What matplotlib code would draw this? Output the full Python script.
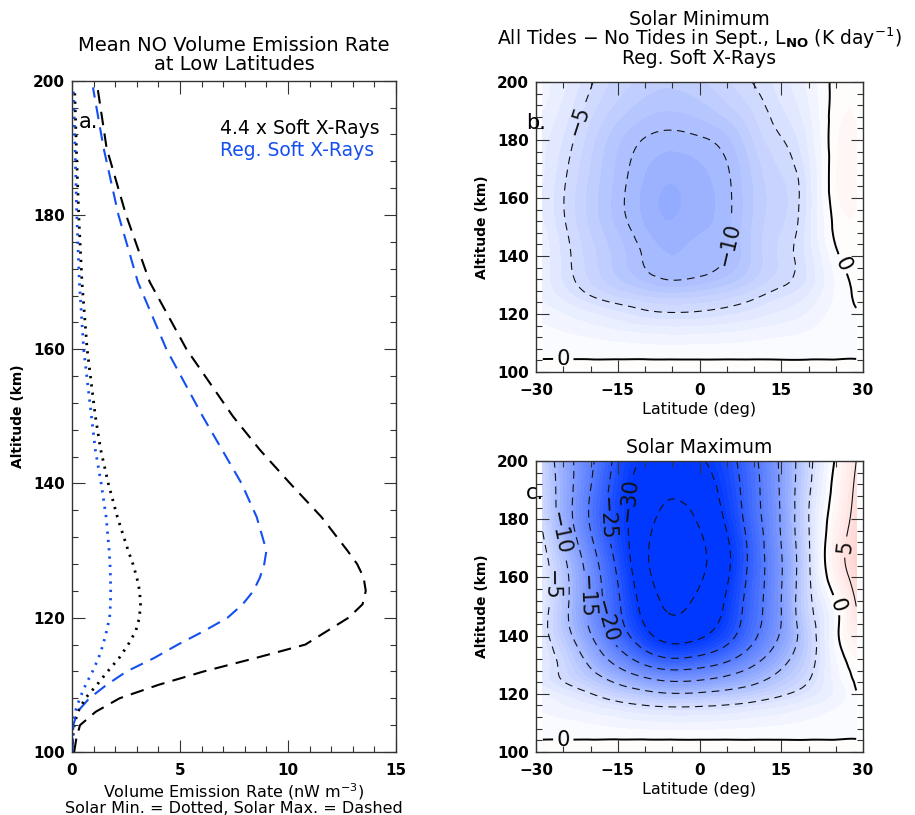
import numpy as np
import matplotlib
matplotlib.use('Agg')
import matplotlib.pyplot as plt
import matplotlib.tri as mtri
from matplotlib.colors import LinearSegmentedColormap, Normalize

# ---------------- Panel a: NO volume emission rate profiles ----------------
alt_a = [100, 102, 104, 106, 108, 110, 112, 114, 116, 118, 120, 122, 124, 126,
         128, 130, 135, 140, 145, 150, 160, 170, 180, 190, 199]
max_44x = [0.1, 0.2, 0.37, 1.1, 2.2, 4.0, 6.1, 8.5, 10.8, 11.8, 12.8, 13.45, 13.6, 13.5,
           13.2, 12.75, 11.55, 10.1, 8.7, 7.45, 5.3, 3.6, 2.5, 1.6, 1.18]
max_reg = [0.03, 0.05, 0.06, 0.25, 0.8, 1.6, 2.53, 3.8, 4.9, 6.1, 7.2, 7.9, 8.4, 8.7,
           8.9, 9.0, 8.55, 7.85, 6.95, 6.05, 4.37, 3.05, 2.15, 1.46, 0.97]
min_44x = [0.0, 0.03, 0.1, 0.27, 0.62, 1.15, 1.65, 2.18, 2.6, 2.95, 3.12, 3.17, 3.13, 3.0,
           2.82, 2.6, 2.1, 1.68, 1.33, 1.08, 0.7, 0.46, 0.31, 0.2, 0.12]
min_reg = [0.0, 0.02, 0.06, 0.15, 0.36, 0.63, 0.95, 1.23, 1.44, 1.6, 1.74, 1.78, 1.79, 1.78,
           1.76, 1.72, 1.58, 1.35, 1.08, 0.9, 0.54, 0.34, 0.22, 0.14, 0.06]

# ---------------- Panels b, c: heating-rate differences (K/day) ----------------
lat = [-28.75, -25, -20, -15, -10, -5, 0, 5, 10, 15, 20, 25, 28.75]
alt = [100, 105, 110, 115, 120, 125, 130, 140, 150, 165, 180, 190, 200]

solar_min = [
    [0.3, 0.3, 0.3, 0.35, 0.35, 0.35, 0.35, 0.35, 0.35, 0.3, 0.3, 0.3, 0.3],
    [-0.03, -0.04, -0.06, -0.08, -0.09, -0.1, -0.1, -0.09, -0.08, -0.07, -0.05, -0.03, -0.02],
    [-0.36, -0.5, -0.72, -0.94, -1.12, -1.2, -1.16, -1.06, -0.89, -0.7, -0.48, -0.18, -0.06],
    [-0.84, -1.18, -1.68, -2.18, -2.6, -2.8, -2.72, -2.46, -2.07, -1.62, -1.12, -0.42, -0.14],
    [-1.44, -2.0, -2.9, -3.7, -4.5, -4.8, -4.66, -4.2, -3.55, -2.8, -1.9, -0.6, -0.1],
    [-2.07, -3.1, -4.55, -5.66, -6.49, -6.9, -6.62, -6.0, -4.97, -3.86, -2.69, -0.83, 0.14],
    [-2.35, -3.95, -5.92, -7.52, -8.74, -9.4, -9.02, -8.08, -6.58, -5.17, -3.57, -0.94, 0.28],
    [-2.4, -4.3, -6.6, -8.5, -10.2, -11.0, -10.7, -10.0, -7.8, -5.8, -3.6, -0.3, 0.8],
    [-2.8, -4.7, -7.2, -9.2, -11.0, -11.8, -11.2, -10.3, -7.8, -6.1, -3.5, 0.35, 0.9],
    [-3.0, -4.8, -7.3, -9.4, -11.2, -12.0, -11.4, -10.3, -7.9, -6.2, -3.6, 0.9, 1.2],
    [-2.7, -4.1, -6.6, -8.8, -10.1, -10.5, -10.2, -9.3, -6.9, -5.1, -2.8, 0.8, 1.1],
    [-2.0, -3.4, -5.7, -7.5, -8.7, -9.0, -8.6, -7.5, -5.9, -4.2, -2.2, 0.55, 0.9],
    [-1.6, -2.7, -4.8, -6.4, -7.4, -7.8, -7.2, -6.2, -4.9, -3.5, -1.7, 0.4, 0.8],
]

solar_max = [
    [0.4, 0.4, 0.45, 0.5, 0.5, 0.5, 0.5, 0.5, 0.5, 0.45, 0.4, 0.4, 0.4],
    [-0.05, -0.08, -0.12, -0.15, -0.18, -0.2, -0.2, -0.18, -0.16, -0.13, -0.1, -0.06, -0.03],
    [-0.5, -0.76, -1.1, -1.5, -1.84, -2.0, -1.96, -1.8, -1.52, -1.2, -0.84, -0.44, -0.2],
    [-1.15, -1.75, -2.53, -3.45, -4.23, -4.6, -4.5, -4.14, -3.5, -2.76, -1.93, -1.0, -0.46],
    [-2.0, -3.2, -4.9, -7.1, -8.8, -9.8, -9.5, -8.6, -7.3, -5.5, -3.7, -1.8, -0.1],
    [-3.5, -5.2, -8.0, -11.4, -14.3, -15.9, -15.4, -13.8, -11.4, -8.4, -5.2, -1.6, 0.3],
    [-3.3, -5.8, -10.5, -15.6, -20.1, -22.3, -21.4, -19.0, -15.2, -10.7, -6.2, -1.3, 0.7],
    [-3.8, -8.0, -14.7, -22.1, -28.5, -32.0, -30.7, -26.9, -20.8, -14.4, -7.0, -0.6, 2.9],
    [-3.6, -8.5, -16.4, -24.2, -31.7, -35.6, -33.8, -29.2, -22.1, -15.0, -6.0, -0.4, 5.0],
    [-3.5, -9.0, -17.5, -26.0, -34.0, -38.0, -36.0, -31.0, -23.0, -15.3, -5.5, 2.8, 7.5],
    [-5.5, -12.0, -20.5, -27.8, -33.2, -36.6, -34.4, -29.3, -22.0, -14.6, -5.1, 1.8, 6.5],
    [-6.0, -12.2, -20.0, -27.4, -32.4, -34.2, -32.5, -28.2, -21.5, -14.4, -5.6, 1.0, 5.8],
    [-6.5, -12.5, -19.0, -26.5, -30.5, -31.5, -30.5, -27.0, -21.0, -14.2, -6.2, 0.3, 5.0],
]

xt_a = [0, 5, 10, 15]
yt = [100, 120, 140, 160, 180, 200]
xt_lat = [-30, -15, 0, 15, 30]

BLUE = '#1450f0'
plt.rcParams['font.family'] = ['DejaVu Sans']
plt.rcParams['axes.linewidth'] = 1.0

fig = plt.figure(figsize=(9.15, 8.15), dpi=100)
axa = fig.add_axes([0.0787, 0.0773, 0.3541, 0.8237])
axb = fig.add_axes([0.5858, 0.5436, 0.3574, 0.3558])
axc = fig.add_axes([0.5858, 0.0773, 0.3574, 0.3571])


def style_axes(ax, xticks, xlabels, xminor):
    ax.set_yticks(yt)
    ax.set_yticklabels([str(v) for v in yt], fontweight='bold', fontsize=11)
    ax.set_xticks(xticks)
    ax.set_xticklabels(xlabels, fontweight='bold', fontsize=11)
    ax.set_yticks(np.arange(100, 201, 4), minor=True)
    ax.set_xticks(xminor, minor=True)
    ax.tick_params(which='both', direction='in', top=True, right=True, width=0.8,
                   color='#333333')
    ax.tick_params(which='major', length=9)
    ax.tick_params(which='minor', length=4)
    ax.tick_params(axis='x', which='major', pad=8)
    ax.tick_params(axis='y', which='major', pad=5)
    for s in ax.spines.values():
        s.set_color('#333333')


# ---- panel a ----
axa.plot(max_44x, alt_a, color='black', lw=1.5, linestyle=(0, (6.5, 4)))
axa.plot(max_reg, alt_a, color=BLUE, lw=1.5, linestyle=(0, (6.5, 4)))
axa.plot(min_44x, alt_a, color='black', lw=2.0, linestyle=(0, (0.8, 2.2)))
axa.plot(min_reg, alt_a, color=BLUE, lw=2.0, linestyle=(0, (0.8, 2.2)))
axa.set_xlim(0, 15)
axa.set_ylim(100, 200)
style_axes(axa, xt_a, [str(v) for v in xt_a], np.arange(0, 16, 1))
axa.set_title('Mean NO Volume Emission Rate\nat Low Latitudes', fontsize=14, pad=8,
              linespacing=0.95)
axa.set_xlabel('Volume Emission Rate (nW m$^{-3}$)\nSolar Min. = Dotted, Solar Max. = Dashed',
               fontsize=11.5, labelpad=2, linespacing=0.95)
axa.set_ylabel('Altitude (km)', fontsize=10, fontweight='bold', labelpad=6)
axa.text(0.457, 0.929, '4.4 x Soft X-Rays', transform=axa.transAxes, fontsize=13.5,
         color='black', va='center')
axa.text(0.457, 0.896, 'Reg. Soft X-Rays', transform=axa.transAxes, fontsize=13.5,
         color=BLUE, va='center')
axa.text(0.02, 0.938, 'a.', transform=axa.transAxes, fontsize=15, va='center')

# ---- colormap ----
cmap = LinearSegmentedColormap.from_list(
    'bwr_idl', [(0.0, (0.0, 0.22, 1.0)), (0.5, (1.0, 1.0, 1.0)), (1.0, (1.0, 0.35, 0.3))])
norm = Normalize(vmin=-30, vmax=30, clip=True)

LAT, ALT = np.meshgrid(np.array(lat, float), np.array(alt, float))
nr, nc = LAT.shape
tris = []
for i in range(nr - 1):
    for j in range(nc - 1):
        k = i * nc + j
        tris.append([k, k + 1, k + nc + 1])
        tris.append([k, k + nc + 1, k + nc])
triang = mtri.Triangulation(LAT.ravel(), ALT.ravel(), np.array(tris))
refiner = mtri.UniformTriRefiner(triang)


def fmt(v):
    return ('\u2212%d' % abs(round(v))) if v < 0 else '%d' % round(v)


def field(ax, Z, neg_levels, pos_levels, lab_neg, lab_zero, lab_pos):
    tri_r, z_r = refiner.refine_field(np.array(Z, float).ravel(), subdiv=4)
    ax.tricontourf(tri_r, z_r, levels=np.arange(-40, 11, 1), cmap=cmap, norm=norm,
                   extend='both')
    cn = ax.tricontour(tri_r, z_r, levels=neg_levels, colors='#111111', linewidths=0.8,
                       linestyles=[(0, (7, 5))])
    cz = ax.tricontour(tri_r, z_r, levels=[0], colors='black', linewidths=1.4,
                       linestyles='solid')
    ax.clabel(cn, manual=lab_neg, inline=True, fontsize=15, fmt=fmt, inline_spacing=4)
    ax.clabel(cz, manual=lab_zero, inline=True, fontsize=15, fmt=fmt, inline_spacing=4)
    if pos_levels:
        cp = ax.tricontour(tri_r, z_r, levels=pos_levels, colors='#111111',
                           linewidths=0.8, linestyles='solid')
        ax.clabel(cp, manual=lab_pos, inline=True, fontsize=15, fmt=fmt, inline_spacing=4)
    ax.set_xlim(-30, 30)
    ax.set_ylim(100, 200)
    style_axes(ax, xt_lat, [fmt(v) for v in xt_lat], np.arange(-30, 31, 5))
    ax.set_xlabel('Latitude (deg)', fontsize=11.5, labelpad=3)
    ax.set_ylabel('Altitude (km)', fontsize=10, fontweight='bold', labelpad=6)


field(axb, solar_min, [-10, -5], [],
      [(-23.1, 187.5), (5.9, 143.8)], [(27.0, 138.0), (-25.0, 104.0)], [])
field(axc, solar_max, [-35, -30, -25, -20, -15, -10, -5], [5],
      [(-27.4, 157.4), (-25.6, 175.2), (-21.3, 153.4), (-17.0, 144.8),
       (-17.3, 180.3), (-13.1, 186.6)],
      [(25.2, 150.5), (-25.0, 104.0)], [(25.8, 170.6)])

axb.set_title('Solar Minimum\nAll Tides \u2212 No Tides in Sept., L$_{\\mathbf{NO}}$ (K day$^{-1}$)\n'
              'Reg. Soft X-Rays', fontsize=13.5, pad=13, linespacing=0.85)
axc.set_title('Solar Maximum', fontsize=13.5, pad=6)
axb.text(-0.03, 0.86, 'b.', transform=axb.transAxes, fontsize=15, va='center')
axc.text(-0.03, 0.89, 'c.', transform=axc.transAxes, fontsize=15, va='center')

fig.savefig('out.png', dpi=100)
